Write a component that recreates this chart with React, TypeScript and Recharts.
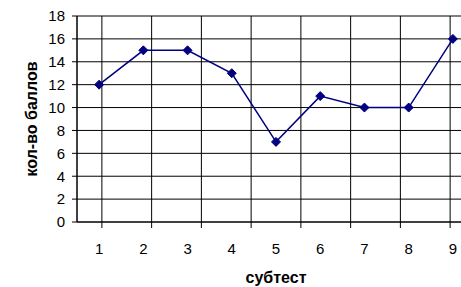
import React from "react";
import {
  LineChart,
  Line,
  CartesianGrid,
  XAxis,
  YAxis,
} from "recharts";

const subtests = [1, 2, 3, 4, 5, 6, 7, 8, 9];
const scores = [12, 15, 15, 13, 7, 11, 10, 10, 16];
const yTicks = [0, 2, 4, 6, 8, 10, 12, 14, 16, 18];
// category borders, used for the vertical grid and tick marks
const borderTicks = [0.5, 1.5, 2.5, 3.5, 4.5, 5.5, 6.5, 7.5, 8.5, 9.5];

const data = subtests.map((s, i) => ({ subtest: s, score: scores[i] }));

const Diamond = (props: any) => {
  const { cx, cy } = props;
  if (cx == null || cy == null) return null;
  const r = 4.5;
  return (
    <polygon
      points={`${cx},${cy - r} ${cx + r},${cy} ${cx},${cy + r} ${cx - r},${cy}`}
      fill="#000080"
      stroke="#000080"
    />
  );
};

// empty tick label: the border axis only draws its tick marks
const NoTick = () => <g />;

const App = () => {
  return (
    <div
      style={{
        position: "absolute",
        left: 0,
        top: 0,
        width: 461,
        height: 287,
        overflow: "hidden",
        background: "#fff",
        fontFamily: "'Liberation Sans', Arial, sans-serif",
      }}
    >
      <LineChart
        width={500}
        height={287}
        data={data}
        margin={{ top: 16, right: 25, left: 0, bottom: 0 }}
      >
        <CartesianGrid
          xAxisId="a"
          stroke="#000"
          strokeWidth={1}
        />
        <XAxis
          xAxisId="a"
          type="number"
          domain={[0.5, 9.5]}
          ticks={borderTicks}
          interval={0}
          tick={NoTick}
          tickSize={6}
          height={6}
          axisLine={{ stroke: "#000" }}
          tickLine={{ stroke: "#000" }}
        />
        <XAxis
          xAxisId="b"
          dataKey="subtest"
          type="number"
          domain={[0.5, 9.5]}
          ticks={subtests}
          interval={0}
          height={59}
          axisLine={false}
          tickLine={false}
          tickSize={0}
          tickMargin={15}
          tick={{ fill: "#000", fontSize: 15 }}
          label={(p: any) => {
            const vb = p.viewBox || { x: 77, y: 228, width: 398 };
            return (
              <text
                x={vb.x + vb.width / 2}
                y={277}
                textAnchor="middle"
                dominantBaseline="central"
                fontSize={16}
                fontWeight="bold"
                fill="#000"
              >
                субтест
              </text>
            );
          }}
        />
        <YAxis
          domain={[0, 18]}
          ticks={yTicks}
          interval={0}
          width={77}
          tickSize={5}
          tickMargin={7}
          tick={{ fill: "#000", fontSize: 15 }}
          axisLine={{ stroke: "#000" }}
          tickLine={{ stroke: "#000" }}
          label={(p: any) => {
            const vb = p.viewBox || { x: 0, y: 16, width: 77, height: 206 };
            const cy = vb.y + vb.height / 2;
            return (
              <text
                x={31}
                y={cy}
                transform={`rotate(-90, 31, ${cy})`}
                textAnchor="middle"
                dominantBaseline="central"
                fontSize={16}
                fontWeight="bold"
                fill="#000"
              >
                кол-во баллов
              </text>
            );
          }}
        />
        <Line
          xAxisId="b"
          dataKey="score"
          stroke="#000080"
          strokeWidth={1.5}
          dot={<Diamond />}
          activeDot={false}
          isAnimationActive={false}
        />
      </LineChart>
    </div>
  );
};

export default App;
